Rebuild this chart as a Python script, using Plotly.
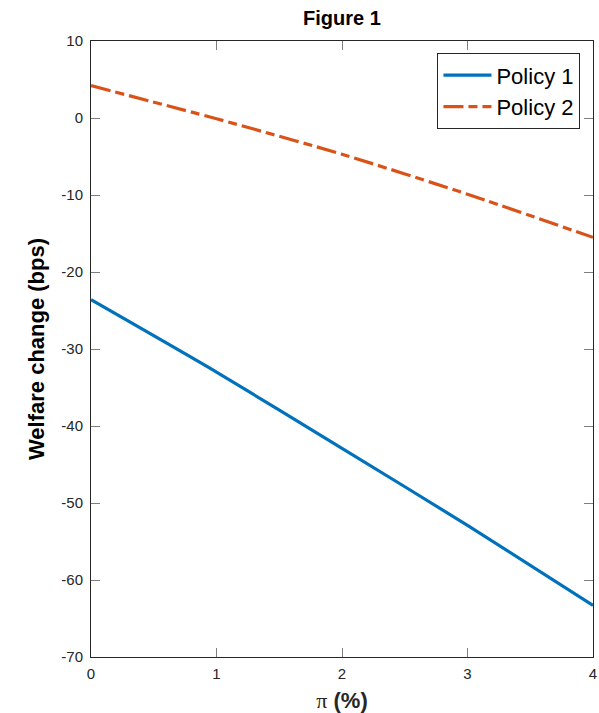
import plotly.graph_objects as go

# Inflation rate (%) and welfare change (bps) under each policy
pi_pct = [0, 1, 2, 3, 4]
policy1 = [-23.6, -33.0, -42.9, -52.9, -63.3]
policy2 = [4.2, -0.1, -4.7, -9.9, -15.5]

y_ticks = [10, 0, -10, -20, -30, -40, -50, -60, -70]
y_tick_text = ["10", "0", "-10", "-20", "-30", "-40", "-50", "-60", "-70"]
x_ticks = [0, 1, 2, 3, 4]

BLUE = "#0072BD"
ORANGE = "#D95319"
AXIS = "#262626"

fig = go.Figure()
fig.add_trace(go.Scatter(
    x=pi_pct, y=policy1, mode="lines", name="Policy 1",
    line=dict(color=BLUE, width=3.2, shape="spline", smoothing=0.6),
))
fig.add_trace(go.Scatter(
    x=pi_pct, y=policy2, mode="lines", name="Policy 2",
    line=dict(color=ORANGE, width=3.2, dash="20px,5px,9px,5px", shape="spline", smoothing=0.6),
))

axis_common = dict(
    showgrid=False, zeroline=False, showline=True, linecolor=AXIS, linewidth=1,
    mirror="ticks", ticks="inside", ticklen=9, tickcolor="#7f7f7f", tickwidth=1,
    tickfont=dict(family="Liberation Sans, Arial", size=15, color=AXIS),
    ticklabeloverflow="allow", automargin=False,
)

fig.update_xaxes(
    range=[0, 4], tickvals=x_ticks, ticklabelstandoff=3, **axis_common,
    title=dict(
        text="<span style='font-family:Liberation Serif, Times New Roman;font-weight:normal'>π</span> <b>(%)</b>",
        font=dict(family="Liberation Sans, Arial", size=22, color=AXIS),
        standoff=12,
    ),
)
fig.update_yaxes(
    range=[-70, 10], tickvals=y_ticks, ticktext=y_tick_text, ticklabelstandoff=4, **axis_common,
    title=dict(
        text="<b>Welfare change (bps)</b>",
        font=dict(family="Liberation Sans Narrow, Arial Narrow, Liberation Sans", size=22, color="#000000"),
        standoff=10,
    ),
)

fig.update_layout(
    width=599, height=713,
    margin=dict(l=91, r=6, t=41, b=56, autoexpand=False),
    paper_bgcolor="white", plot_bgcolor="white",
    title=dict(
        text="<b>Figure 1</b>", x=(91 + 593) / 2 / 599, xanchor="center",
        y=1 - 18 / 713, yanchor="middle",
        font=dict(family="Liberation Sans, Arial", size=20, color="#000000"),
    ),
    legend=dict(
        x=0.975, y=0.98, xanchor="right", yanchor="top",
        bordercolor="#262626", borderwidth=1, bgcolor="white",
        font=dict(family="Liberation Sans, Arial", size=22, color="#000000"),
        itemwidth=48, tracegroupgap=0,
    ),
    showlegend=True,
)

fig.write_html("out.html")
